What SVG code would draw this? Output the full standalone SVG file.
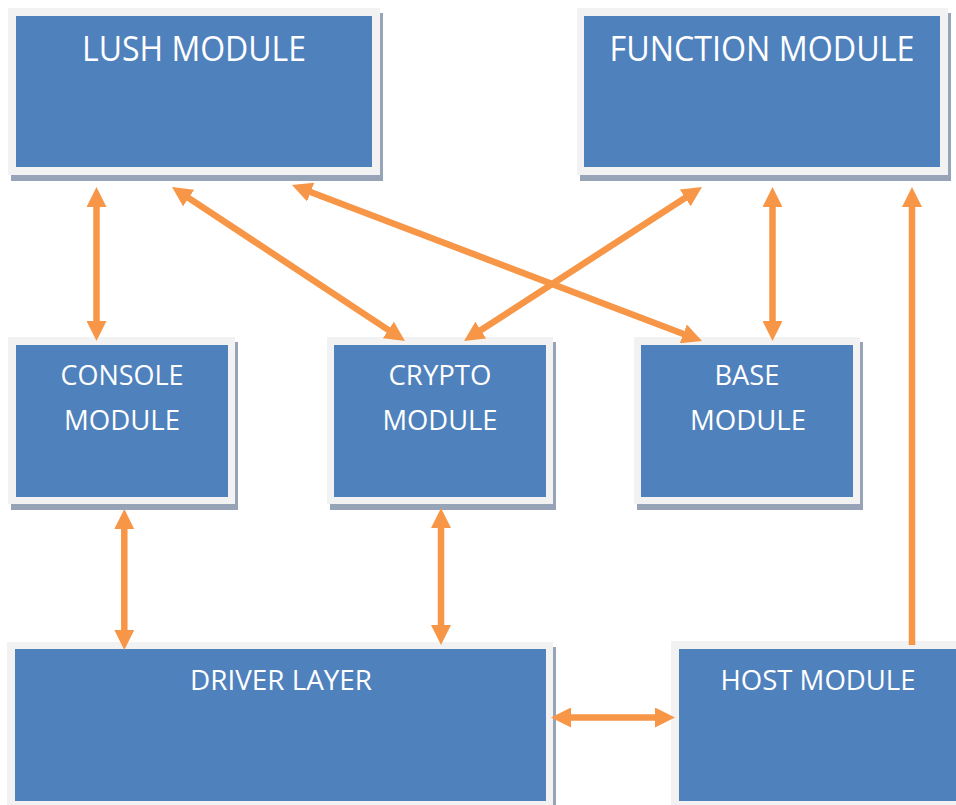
<svg xmlns="http://www.w3.org/2000/svg" width="956" height="805" viewBox="0 0 956 805">
  <defs>
    <style>
      .shadow { fill: #97A4B7; }
      .frame { fill: #F2F2F2; }
      .body { fill: #4F81BD; }
      .label { font-family: "Open Sans", "Noto Sans", "Liberation Sans", sans-serif; fill: #FFFFFF; text-anchor: middle; }
      .big { font-size: 35px; }
      .small { font-size: 28px; }
      .link { stroke: #F79646; stroke-width: 6.5; fill: none; }
      .both { marker-start: url(#head); marker-end: url(#head); }
      .one { marker-end: url(#head); }
    </style>
    <marker id="head" markerUnits="userSpaceOnUse" markerWidth="20" markerHeight="20" refX="8" refY="10" orient="auto-start-reverse" viewBox="0 0 20 20">
      <path d="M0,0 L20,10 L0,20 z" fill="#F79646"/>
    </marker>
  </defs>

  <rect width="956" height="805" fill="#FFFFFF"/>

  <!-- Top row -->
  <g id="lush-module">
    <rect class="shadow" x="11" y="13" width="372" height="168"/>
    <rect class="frame" x="8" y="8" width="372" height="167"/>
    <rect class="body" x="16" y="16" width="356" height="151"/>
    <text class="label big" x="194" y="61" textLength="224" lengthAdjust="spacingAndGlyphs">LUSH MODULE</text>
  </g>

  <g id="function-module">
    <rect class="shadow" x="580" y="13" width="371" height="168"/>
    <rect class="frame" x="577" y="8" width="371" height="167"/>
    <rect class="body" x="584" y="16" width="356" height="151"/>
    <text class="label big" x="762" y="61" textLength="305" lengthAdjust="spacingAndGlyphs">FUNCTION MODULE</text>
  </g>

  <!-- Middle row -->
  <g id="console-module">
    <rect class="shadow" x="11" y="342" width="227" height="168"/>
    <rect class="frame" x="8" y="337" width="227" height="167"/>
    <rect class="body" x="16" y="345" width="212" height="152"/>
    <text class="label small" x="122" y="385" textLength="123" lengthAdjust="spacingAndGlyphs">CONSOLE</text>
    <text class="label small" x="122" y="430" textLength="116" lengthAdjust="spacingAndGlyphs">MODULE</text>
  </g>

  <g id="crypto-module">
    <rect class="shadow" x="330" y="342" width="226" height="168"/>
    <rect class="frame" x="327" y="337" width="226" height="167"/>
    <rect class="body" x="334" y="345" width="212" height="152"/>
    <text class="label small" x="440" y="385" textLength="103" lengthAdjust="spacingAndGlyphs">CRYPTO</text>
    <text class="label small" x="440" y="430" textLength="115" lengthAdjust="spacingAndGlyphs">MODULE</text>
  </g>

  <g id="base-module">
    <rect class="shadow" x="637" y="342" width="226" height="168"/>
    <rect class="frame" x="634" y="337" width="226" height="167"/>
    <rect class="body" x="641" y="345" width="212" height="152"/>
    <text class="label small" x="747" y="385" textLength="65" lengthAdjust="spacingAndGlyphs">BASE</text>
    <text class="label small" x="748" y="430" textLength="116" lengthAdjust="spacingAndGlyphs">MODULE</text>
  </g>

  <!-- Bottom row -->
  <g id="driver-layer">
    <rect class="shadow" x="10" y="647" width="546" height="170"/>
    <rect class="frame" x="7" y="642" width="546" height="170"/>
    <rect class="body" x="15" y="649" width="531" height="152"/>
    <text class="label small" x="281" y="690" textLength="182" lengthAdjust="spacingAndGlyphs">DRIVER LAYER</text>
  </g>

  <g id="host-module">
    <rect class="frame" x="671" y="641" width="300" height="170"/>
    <rect class="body" x="679" y="649" width="290" height="152"/>
    <text class="label small" x="818" y="690" textLength="195" lengthAdjust="spacingAndGlyphs">HOST MODULE</text>
  </g>

  <!-- Connectors -->
  <g id="connectors">
    <line class="link both" x1="96.5" y1="199" x2="96.5" y2="329"/>
    <line class="link both" x1="182" y1="193.6" x2="395" y2="334.4"/>
    <line class="link both" x1="303.2" y1="189.3" x2="690.8" y2="336.7"/>
    <line class="link both" x1="691.9" y1="193.5" x2="474.1" y2="334.5"/>
    <line class="link both" x1="772.5" y1="199" x2="772.5" y2="329"/>
    <line class="link one" x1="912" y1="645" x2="912" y2="199"/>
    <line class="link both" x1="124.3" y1="521" x2="124.3" y2="638"/>
    <line class="link both" x1="441" y1="520" x2="441" y2="633"/>
    <line class="link both" x1="563" y1="717.5" x2="663" y2="717.5"/>
  </g>
</svg>
